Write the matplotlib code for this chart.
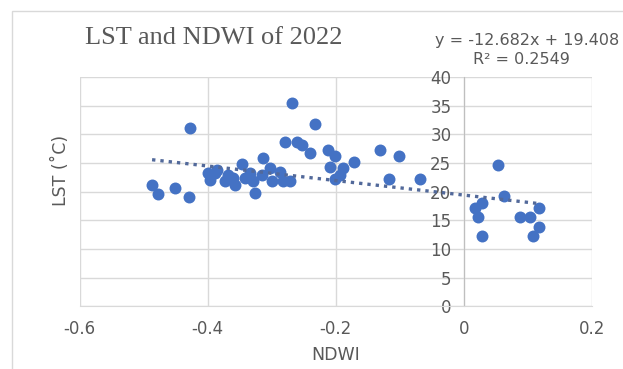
import numpy as np
import matplotlib.pyplot as plt
from matplotlib.patches import Rectangle

# NDWI / LST points
ndwi = [-0.487, -0.477, -0.451, -0.429, -0.427,
        -0.399, -0.396, -0.388, -0.386, -0.373, -0.368, -0.360, -0.357,
        -0.347, -0.342, -0.334, -0.329, -0.326, -0.315, -0.313, -0.303,
        -0.300, -0.287, -0.282, -0.271,
        -0.268, -0.232, -0.280, -0.260, -0.253, -0.240,
        -0.212, -0.201, -0.209, -0.188, -0.171, -0.193, -0.201,
        -0.131, -0.102, -0.117, -0.068,
        0.053, 0.062, 0.018, 0.028, 0.022, 0.029, 0.088, 0.104, 0.117,
        0.118, 0.108]
lst = [21.2, 19.6, 20.7, 19.1, 31.2,
       23.2, 22.1, 23.2, 23.8, 21.8, 22.9, 22.4, 21.2,
       24.9, 22.4, 23.2, 21.8, 19.7, 22.9, 25.8, 24.1,
       21.8, 23.5, 21.8, 21.8,
       35.4, 31.9, 28.6, 28.6, 28.2, 26.7,
       27.3, 26.2, 24.3, 24.1, 25.1, 22.9, 22.2,
       27.3, 26.2, 22.2, 22.2,
       24.7, 19.3, 17.1, 18.0, 15.5, 12.2, 15.5, 15.5, 17.1,
       13.9, 12.2]

slope = -12.682
intercept = 19.408
r2 = 0.2549

xticks = [-0.6, -0.4, -0.2, 0, 0.2]
xticklabels = ['-0.6', '-0.4', '-0.2', '0', '0.2']
yticks = [0, 5, 10, 15, 20, 25, 30, 35, 40]

grey = '#595959'
blue = '#4472C4'

fig = plt.figure(figsize=(6.23, 3.69), dpi=100)
# light chart border like the excel chart area
fig.patches.append(Rectangle((12 / 623, -0.1), 1.2, 1 - 11 / 369 + 0.1,
                             transform=fig.transFigure, fill=False,
                             edgecolor='#d9d9d9', lw=1.0))

ax = fig.add_axes([0.128, 0.170, 0.822, 0.621])
ax.set_xlim(-0.6, 0.2)
ax.set_ylim(0, 40)

ax.scatter(ndwi, lst, s=74, color=blue, zorder=3, linewidths=0)

tx = np.linspace(min(ndwi), max(ndwi), 50)
ax.plot(tx, slope * tx + intercept, linestyle=(0, (1, 1.5)), lw=2.4,
        color='#52699a', zorder=4)

ax.set_xticks(xticks)
ax.set_xticklabels(xticklabels)
ax.set_yticks(yticks)
ax.grid(True, color='#d9d9d9', lw=1.0, zorder=0)
ax.set_axisbelow(True)

for s in ['top', 'right']:
    ax.spines[s].set_visible(False)
ax.spines['left'].set_position(('data', 0))
ax.spines['left'].set_color('#bfbfbf')
ax.spines['bottom'].set_color('#d9d9d9')

ax.tick_params(axis='y', length=0, pad=9, labelsize=12, labelcolor=grey)
ax.tick_params(axis='x', length=0, pad=10, labelsize=12, labelcolor=grey)

ax.set_xlabel('NDWI', fontsize=12.5, color=grey, labelpad=6)
fig.text(61 / 623, 1 - 170 / 369, 'LST (˚C)', rotation=90, fontsize=12.5,
         color=grey, ha='center', va='center')

fig.text(85 / 623, 1 - 38 / 369, 'LST and NDWI of 2022', fontsize=19,
         family='Liberation Serif', color=grey, ha='left', va='center')
fig.text(527 / 623, 1 - 40 / 369, f'y = {slope}x + {intercept}',
         fontsize=11.5, color=grey, ha='center', va='center')
fig.text(521 / 623, 1 - 60 / 369, f'R² = {r2}',
         fontsize=11.5, color=grey, ha='center', va='center')

fig.savefig('out.png', dpi=100)
